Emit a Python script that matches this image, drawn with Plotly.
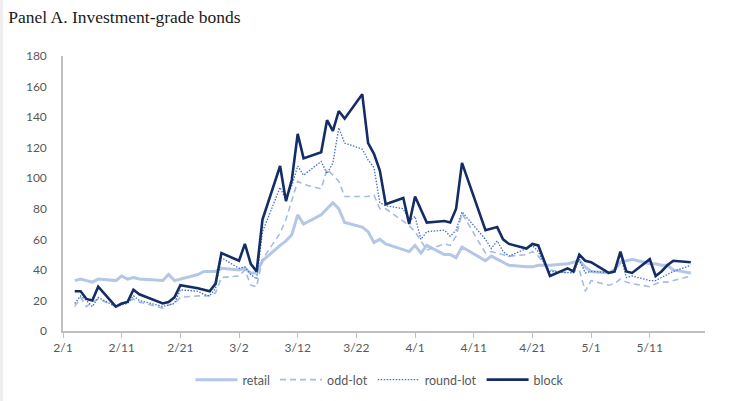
import plotly.graph_objects as go

# Trading days, Feb 3 – May 18, 2020
feb = [3, 4, 5, 6, 7, 10, 11, 12, 13, 14, 18, 19, 20, 21, 24, 25, 26, 27, 28]
mar = [2, 3, 4, 5, 6, 9, 10, 11, 12, 13, 16, 17, 18, 19, 20, 23, 24, 25, 26, 27, 30, 31]
apr = [1, 2, 3, 6, 7, 8, 9, 13, 14, 15, 16, 17, 20, 21, 22, 23, 24, 27, 28, 29, 30]
may = [1, 4, 5, 6, 7, 8, 11, 12, 13, 14, 15, 18]
dates = ([f"2020-02-{d:02d}" for d in feb] + [f"2020-03-{d:02d}" for d in mar]
         + [f"2020-04-{d:02d}" for d in apr] + [f"2020-05-{d:02d}" for d in may])

retail = [33, 34, 33, 32, 34, 33, 36, 34, 35, 34, 33, 37, 33, 34, 37, 39, 39, 39, 41,
          40, 41, 38, 38, 46, 56, 59, 63, 76, 70, 76, 80, 84, 80, 71, 68, 65, 58, 60, 57, 53, 52,
          56, 51, 56, 50, 50, 48, 55, 46, 49, 47, 45, 43, 42, 42, 43, 43, 43, 44, 45, 46, 42,
          39, 38, 40, 45, 46, 47, 44, 44, 43, 43, 40, 38]
odd_lot = [16, 22, 16, 19, 21, 16, 18, 19, 21, 19, 15, 17, 18, 22, 23, 23, 23, 25, 35,
           36, 40, 30, 29, 47, 64, 73, 86, 98, 96, 93, 106, 102, 98, 88, 88, 88, 89, 80, 80, 72, 69,
           65, 59, 53, 57, 56, 62, 77, 51, 52, 51, 50, 49, 50, 52, 49, 44, 40, 38, 39, 40, 26,
           33, 30, 31, 34, 32, 31, 29, 31, 32, 32, 33, 36]
round_lot = [18, 23, 20, 16, 22, 16, 17, 18, 23, 20, 16, 17, 18, 27, 26, 24, 23, 28, 48,
             41, 42, 37, 34, 65, 94, 86, 95, 108, 102, 111, 103, 110, 133, 123, 119, 112, 107, 84, 82, 80, 72,
             75, 60, 65, 66, 62, 66, 78, 60, 54, 59, 52, 49, 54, 56, 52, 44, 39, 38, 38, 47, 38,
             39, 38, 38, 50, 35, 36, 33, 33, 35, 37, 39, 43]
block = [26, 26, 21, 20, 29, 16, 18, 19, 27, 24, 18, 19, 22, 30, 28, 27, 26, 31, 51,
         46, 57, 44, 39, 73, 108, 85, 99, 129, 113, 117, 138, 131, 144, 139, 155, 123, 116, 105, 83, 87, 70,
         88, 80, 71, 72, 71, 80, 110, 66, 67, 68, 60, 57, 54, 57, 56, 46, 36, 41, 39, 50, 46,
         45, 38, 39, 52, 39, 38, 47, 36, 39, 43, 46, 45]

tick_dates = ["2020-02-01", "2020-02-11", "2020-02-21", "2020-03-02", "2020-03-12", "2020-03-22",
              "2020-04-01", "2020-04-11", "2020-04-21", "2020-05-01", "2020-05-11"]
tick_labels = ["2/1", "2/11", "2/21", "3/2", "3/12", "3/22", "4/1", "4/11", "4/21", "5/1", "5/11"]

series = [
    ("retail", retail, dict(color="#b4c7e7", width=3)),
    ("odd-lot", odd_lot, dict(color="#a4bbe3", width=1.6, dash="6px,4px")),
    ("round-lot", round_lot, dict(color="#4472c4", width=1.3, dash="1.5px,1.5px")),
    ("block", block, dict(color="#142d66", width=2.6)),
]

fig = go.Figure()
for name, vals, line in series:
    fig.add_trace(go.Scatter(x=dates, y=vals, name=name, mode="lines", line=line))

axis_font = dict(family="Lato, Carlito, sans-serif", size=12, color="#595959")

fig.update_layout(
    width=751, height=401,
    margin=dict(l=63, r=46, t=56, b=70, autoexpand=False),
    paper_bgcolor="white", plot_bgcolor="white",
    title=dict(text="Panel A. Investment-grade bonds", xref="container", yref="container",
               x=0.011, xanchor="left", y=0.958, yanchor="middle",
               font=dict(family="Liberation Serif, Times New Roman, serif", size=17.5, color="#1a1a1a")),
    showlegend=True,
    legend=dict(orientation="h", xref="container", yref="container",
                x=0.506, xanchor="center", y=1 - 380 / 401, yanchor="middle",
                itemwidth=42, font=dict(family="Lato, Carlito, sans-serif", size=12.5, color="#595959"),
                bgcolor="rgba(0,0,0,0)"),
    xaxis=dict(type="date", range=["2020-02-01", "2020-05-20 10:00"],
               tickmode="array", tickvals=tick_dates, ticktext=tick_labels,
               ticks="outside", ticklen=5, tickcolor="#bfbfbf", tickwidth=1,
               showline=True, linecolor="#bfbfbf", linewidth=1.5,
               showgrid=False, zeroline=False, tickfont=axis_font, automargin=False),
    yaxis=dict(range=[0, 180], tickmode="linear", tick0=0, dtick=20,
               showline=True, linecolor="#bfbfbf", linewidth=1.5,
               ticks="", ticklabelstandoff=12,
               showgrid=False, zeroline=False, tickfont=axis_font, automargin=False),
)

# thin grey strip along the left page edge
fig.add_shape(type="rect", xref="paper", yref="paper", x0=-63 / 642, x1=-60 / 642, y0=-70 / 275, y1=1 + 56 / 275,
              fillcolor="#eeeeee", line=dict(width=0), layer="below")

fig.write_html("out.html")
